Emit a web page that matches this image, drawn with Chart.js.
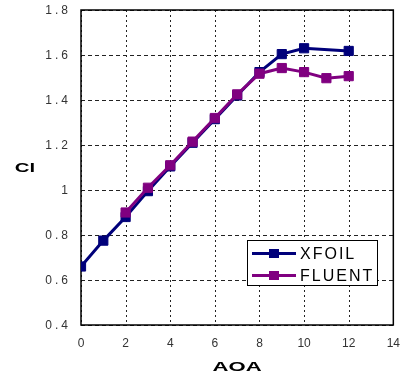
<!DOCTYPE html>
<html>
<head>
<meta charset="utf-8">
<script src="https://cdn.jsdelivr.net/npm/chart.js@4"></script>
<style>
  html, body { margin: 0; padding: 0; background: #fff; }
  #wrap { position: relative; width: 411px; height: 378px; }
</style>
</head>
<body>
<div id="wrap"><canvas id="clChart"></canvas></div>
<script>
// data
const aoaXfoil = [0, 1, 2, 3, 4, 5, 6, 7, 8, 9, 10, 12];
const clXfoil = [0.66, 0.775, 0.88, 0.995, 1.105, 1.21, 1.315, 1.42, 1.524, 1.604, 1.63, 1.618];
const aoaFluent = [2, 3, 4, 5, 6, 7, 8, 9, 10, 11, 12];
const clFluent = [0.9, 1.01, 1.11, 1.215, 1.32, 1.425, 1.517, 1.542, 1.524, 1.497, 1.506];
const xTicks = [0, 2, 4, 6, 8, 10, 12, 14];
const yTicks = [0.4, 0.6, 0.8, 1, 1.2, 1.4, 1.6, 1.8];
const seriesNames = ["XFOIL", "FLUENT"];
const seriesColors = ["#00007a", "#800080"];

function toPoints(xs, ys) {
  return xs.map((x, i) => ({ x: x, y: ys[i] }));
}

// dashes drawn by hand, segment by segment
function dashedLine(ctx, x1, y1, x2, y2, on, off) {
  const len = Math.hypot(x2 - x1, y2 - y1);
  const dx = (x2 - x1) / len;
  const dy = (y2 - y1) / len;
  ctx.beginPath();
  for (let d = 0; d < len; d += on + off) {
    const e = Math.min(d + on, len);
    ctx.moveTo(x1 + dx * d, y1 + dy * d);
    ctx.lineTo(x1 + dx * e, y1 + dy * e);
  }
  ctx.stroke();
}

// dashed grid + frame around the plot, drawn under the lines
const framePlugin = {
  id: "frame",
  beforeDatasetsDraw(chart) {
    const ctx = chart.ctx;
    const a = chart.chartArea;
    const xs = chart.scales.x;
    const ys = chart.scales.y;
    ctx.save();
    ctx.strokeStyle = "#222";
    ctx.lineWidth = 1;
    ctx.lineCap = "butt";

    xTicks.forEach((v) => {
      const px = Math.round(xs.getPixelForValue(v)) + 0.5;
      dashedLine(ctx, px, a.top, px, a.bottom, 2, 3);
    });
    yTicks.forEach((v) => {
      const py = Math.round(ys.getPixelForValue(v)) + 0.5;
      dashedLine(ctx, a.left, py, a.right, py, 4, 3);
    });

    ctx.strokeStyle = "#000";
    ctx.lineWidth = 1.5;
    ctx.strokeRect(a.left, a.top, a.right - a.left, a.bottom - a.top);
    ctx.restore();
  },
};

// y tick labels, axis titles and the boxed legend
const decorPlugin = {
  id: "decor",
  afterDraw(chart) {
    const ctx = chart.ctx;
    const y = chart.scales.y;
    const x = chart.scales.x;

    ctx.save();
    ctx.fillStyle = "#333";
    ctx.font = "12px 'Liberation Sans', Arial, sans-serif";
    ctx.letterSpacing = "3px";
    ctx.textAlign = "right";
    ctx.textBaseline = "middle";
    yTicks.forEach((v) => {
      ctx.fillText(String(v), 71, y.getPixelForValue(v) + 1);
    });
    ctx.letterSpacing = "0px";
    ctx.restore();

    // axis titles, stretched like the original
    ctx.save();
    ctx.fillStyle = "#000";
    ctx.textAlign = "center";
    ctx.textBaseline = "middle";
    ctx.font = "bold 12px 'Liberation Sans', Arial, sans-serif";
    ctx.translate(25, (y.top + y.bottom) / 2 + 1.5);
    ctx.scale(1.7, 1);
    ctx.fillText("Cl", 0, 0);
    ctx.restore();

    ctx.save();
    ctx.fillStyle = "#000";
    ctx.textAlign = "center";
    ctx.textBaseline = "middle";
    ctx.font = "bold 13px 'Liberation Sans', Arial, sans-serif";
    ctx.translate((x.left + x.right) / 2, 367.5);
    ctx.scale(1.7, 1);
    ctx.fillText("AOA", 0, 0);
    ctx.restore();

    // legend box
    ctx.save();
    ctx.fillStyle = "#fff";
    ctx.fillRect(247.5, 240.5, 130, 45);
    ctx.strokeStyle = "#000";
    ctx.lineWidth = 1;
    ctx.strokeRect(247.5, 240.5, 130, 45);
    const rows = [253.5, 275.5];
    seriesNames.forEach((name, i) => {
      const ry = rows[i];
      ctx.strokeStyle = seriesColors[i];
      ctx.lineWidth = 3;
      ctx.beginPath();
      ctx.moveTo(252, ry);
      ctx.lineTo(296, ry);
      ctx.stroke();
      ctx.fillStyle = seriesColors[i];
      ctx.fillRect(269, ry - 4.5, 10, 9);
      ctx.fillStyle = "#000";
      ctx.font = "16px 'Liberation Sans', Arial, sans-serif";
      ctx.letterSpacing = "2px";
      ctx.textAlign = "left";
      ctx.textBaseline = "middle";
      ctx.fillText(name, 300, ry + 1);
      ctx.letterSpacing = "0px";
    });
    ctx.restore();
  },
};

const ctx = document.getElementById("clChart").getContext("2d");
new Chart(ctx, {
  type: "line",
  data: {
    datasets: [
      {
        label: seriesNames[0],
        data: toPoints(aoaXfoil, clXfoil),
        borderColor: seriesColors[0],
        backgroundColor: seriesColors[0],
        borderWidth: 3,
        pointStyle: "rect",
        pointRadius: 6.5,
        pointBorderWidth: 1,
        order: 2,
      },
      {
        label: seriesNames[1],
        data: toPoints(aoaFluent, clFluent),
        borderColor: seriesColors[1],
        backgroundColor: seriesColors[1],
        borderWidth: 3,
        pointStyle: "rect",
        pointRadius: 6.5,
        pointBorderWidth: 1,
        order: 1,
      },
    ],
  },
  options: {
    responsive: true,
    maintainAspectRatio: false,
    animation: false,
    layout: { padding: { left: 0, top: 10, right: 10, bottom: 0 } },
    plugins: {
      legend: { display: false },
      tooltip: { enabled: false },
    },
    scales: {
      x: {
        type: "linear",
        min: xTicks[0],
        max: xTicks[xTicks.length - 1],
        afterBuildTicks(scale) {
          scale.ticks = xTicks.map((v) => ({ value: v }));
        },
        afterFit(scale) {
          scale.height = 53;
        },
        ticks: {
          color: "#333",
          padding: 11,
          maxRotation: 0,
          font: { family: "'Liberation Sans', Arial, sans-serif", size: 12 },
        },
        grid: { display: false, drawTicks: false },
        border: { display: false },
      },
      y: {
        type: "linear",
        min: yTicks[0],
        max: yTicks[yTicks.length - 1],
        afterBuildTicks(scale) {
          scale.ticks = yTicks.map((v) => ({ value: v }));
        },
        afterFit(scale) {
          scale.width = 81;
        },
        ticks: { display: false },
        grid: { display: false, drawTicks: false },
        border: { display: false },
      },
    },
  },
  plugins: [framePlugin, decorPlugin],
});
</script>
</body>
</html>
